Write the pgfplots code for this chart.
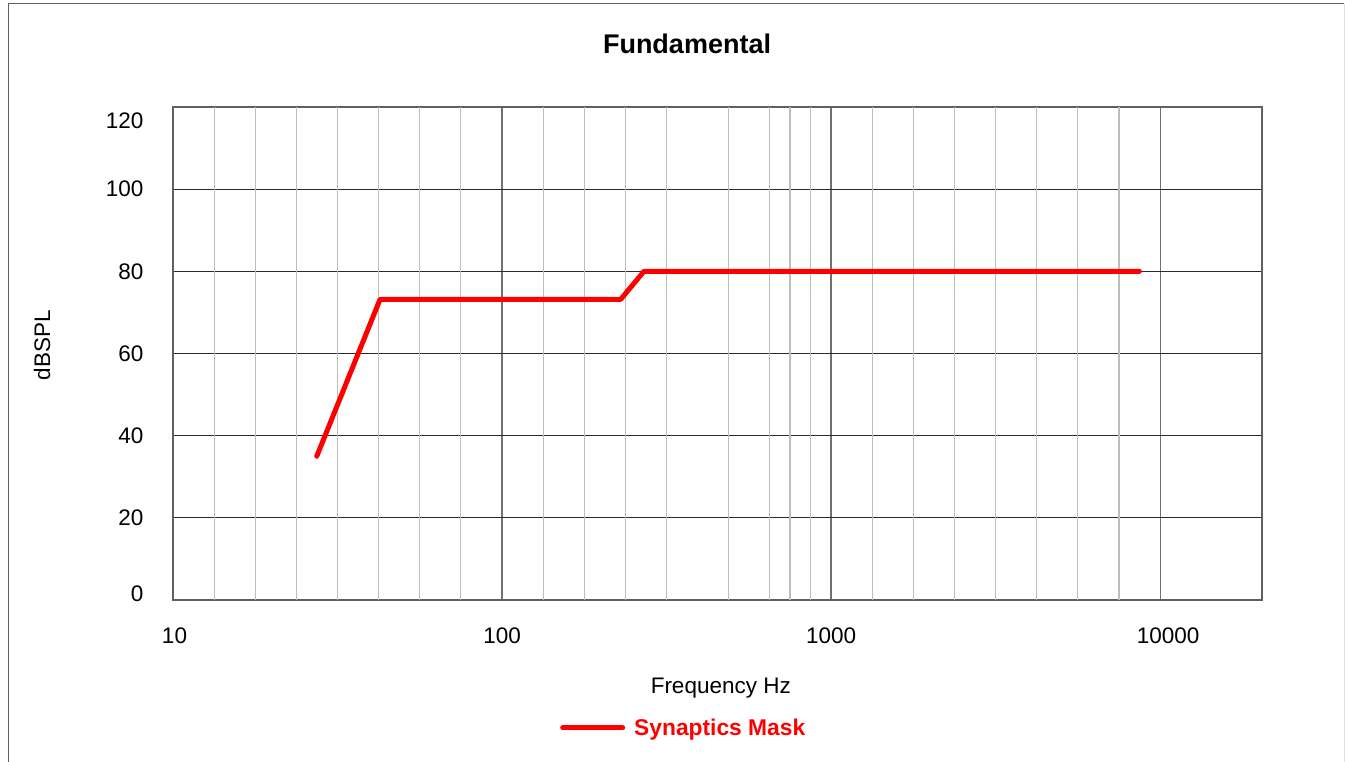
\documentclass[border=0pt]{standalone}
\usepackage{pgfplots}
\pgfplotsset{compat=1.18}
\usepackage{fontspec}
\setmainfont{Liberation Sans}
\definecolor{minorg}{HTML}{BDBDBD}
\definecolor{majorg}{HTML}{707070}
\definecolor{hgrid}{HTML}{2A2A2A}
\definecolor{framec}{HTML}{606060}
\begin{document}
\begin{tikzpicture}[x=1pt,y=1pt]
\useasboundingbox (0,0) rectangle (1345,761);
\draw[framec, line width=1pt] (8,-5) -- (8,757) -- (1344,757);
\draw[black!12, line width=1pt] (1344,757) -- (1344,-5);
\begin{axis}[
  at={(173pt,161pt)}, anchor=south west,
  scale only axis, width=1089pt, height=493pt,
  xmode=log, xmin=10, xmax=20400, ymin=0, ymax=120,
  log basis x=10,
  xtick={10,100,1000,10000},
  xticklabels={\hspace*{3pt}10,100,1000,\hspace*{16pt}10000},
  ytick={0,20,40,60,80,100,120},
  yticklabels={\raisebox{6pt}[\height][\depth]{0},20,40,60,80,100,\raisebox{-14pt}[\height][\depth]{120}},
  minor x tick num=0,
  major tick length=0pt, minor tick length=0pt,
  tick style={draw=none},
  xmajorgrids, ymajorgrids,
  major x grid style={majorg, line width=1.2pt},
  major y grid style={hgrid, line width=1.1pt},
  extra x ticks={13.335,17.783,23.714,31.623,42.170,56.234,74.989,
                 133.35,177.83,237.14,316.23,486.97,649.38,749.89,865.96,
                 1333.5,1778.3,2371.4,3162.3,4217.0,5623.4,7498.9},
  extra x tick labels={},
  extra x tick style={xmajorgrids=true, major x grid style={minorg, line width=1.2pt}, tick style={draw=none}},
  axis line style={framec, line width=1.3pt},
  tick label style={font=\fontsize{22.5}{26}\selectfont},
  xticklabel style={yshift=-24pt},
  yticklabel style={xshift=-26pt},
  label style={font=\fontsize{22.5}{26}\selectfont},
  xlabel={Frequency Hz},
  xlabel style={at={(axis description cs:0.503,-0.1785)}, anchor=center},
  ylabel={dBSPL},
  ylabel style={at={(axis description cs:-0.1203,0.517)}, anchor=center},
  title={Fundamental},
  title style={at={(axis description cs:0.472,1.1156)}, anchor=center, font=\bfseries\fontsize{27}{31}\selectfont},
  legend style={at={(axis description cs:0.469,-0.2596)}, anchor=center, draw=none, fill=none,
    font=\bfseries\fontsize{22.8}{26}\selectfont, text=red,
    /tikz/every odd column/.append style={column sep=7pt}},
  legend image code/.code={\draw[#1] (0pt,0pt) -- (60pt,0pt);},
]
\addplot[red, line width=5pt, line cap=round, line join=round]
  coordinates {(27.35,35) (42.6,73.2) (229.5,73.2) (270,80) (8650,80)};
\addlegendentry{Synaptics Mask}
\end{axis}
\end{tikzpicture}
\end{document}
